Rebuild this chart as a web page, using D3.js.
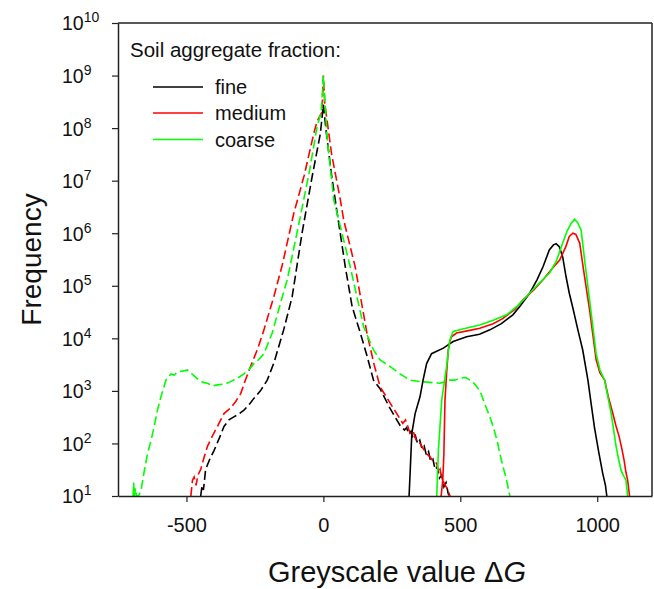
<!DOCTYPE html>
<html>
<head>
<meta charset="utf-8">
<script src="https://cdn.jsdelivr.net/npm/d3@7"></script>
<style>
  body { margin: 0; background: #fff; }
  svg { display: block; font-family: "Liberation Sans", Arial, sans-serif; }
</style>
</head>
<body>
<svg id="chart" width="654" height="589"></svg>
<script>
// greyscale value vs frequency
const xTicks = [-500, 0, 500, 1000];
const yExponents = [1, 2, 3, 4, 5, 6, 7, 8, 9, 10];
const seriesNames = ["fine", "medium", "coarse"];
const seriesColors = ["#000000", "#ff0000", "#00ff00"];

// dashed curves (peak around 0)
const fineDash = [[-448,1.0e1],[-443,1.6e1],[-438,1.3e1],[-430,3.2e1],[-415,5.0e1],[-399,7.4e1],[-380,1.26e2],[-363,2.1e2],[-345,2.8e2],[-327,3.2e2],[-310,3.6e2],[-290,4.3e2],[-270,5.6e2],[-254,7.2e2],[-230,1.0e3],[-205,1.6e3],[-180,3.5e3],[-160,7.9e3],[-145,1.45e4],[-114,6.2e4],[-78,1.0e6],[-41,1.2e7],[-11,7.9e7],[0,2.8e8],[11,8.0e7],[30,1.26e7],[50,2.5e6],[80,2.3e5],[105,4.0e4],[135,1.26e4],[160,4.5e3],[183,1.6e3],[207,1.1e3],[240,5.0e2],[280,2.2e2],[296,1.8e2],[304,2.0e2],[312,1.5e2],[320,1.7e2],[328,1.2e2],[336,1.4e2],[344,1.0e2],[352,1.15e2],[360,7.9e1],[368,8.9e1],[376,6.0e1],[384,7.0e1],[392,4.5e1],[400,5.0e1],[408,3.2e1],[416,3.6e1],[424,2.2e1],[432,2.5e1],[440,1.5e1],[448,1.8e1],[456,1.1e1],[462,1.0e1]];
const mediumDash = [[-484,1.0e1],[-478,2.0e1],[-472,2.3e1],[-465,1.6e1],[-458,2.5e1],[-448,3.2e1],[-435,5.6e1],[-423,8.9e1],[-405,1.4e2],[-387,2.1e2],[-363,3.7e2],[-339,4.7e2],[-320,6.3e2],[-302,8.9e2],[-285,1.6e3],[-266,2.9e3],[-240,6.3e3],[-217,1.45e4],[-181,6.2e4],[-150,2.5e5],[-108,2.4e6],[-70,1.26e7],[-35,7.9e7],[-23,1.35e8],[-5,2.0e8],[0,1.0e9],[5,3.0e8],[30,3.2e7],[62,4.3e6],[74,1.8e6],[116,2.3e5],[159,1.26e4],[185,3.2e3],[207,1.2e3],[240,6.3e2],[268,3.7e2],[290,2.4e2],[300,2.8e2],[317,1.55e2],[328,1.7e2],[340,1.1e2],[353,1.0e2],[365,7.9e1],[378,6.3e1],[390,5.5e1],[402,4.5e1],[414,4.2e1],[420,2.8e1],[426,3.2e1],[432,2.2e1],[445,1.6e1],[455,1.3e1],[462,1.0e1]];
const coarseDash = [[-695,1.0e1],[-693,1.8e1],[-690,1.0e1],[-686,1.4e1],[-682,1.0e1],[-675,1.0e1],[-666,1.26e1],[-655,2.8e1],[-642,6.5e1],[-630,1.1e2],[-618,2.1e2],[-605,4.5e2],[-593,7.8e2],[-575,1.6e3],[-557,2.1e3],[-545,2.0e3],[-533,2.3e3],[-510,2.4e3],[-497,2.5e3],[-480,2.1e3],[-460,1.7e3],[-440,1.45e3],[-424,1.4e3],[-405,1.25e3],[-387,1.3e3],[-360,1.35e3],[-339,1.5e3],[-310,1.8e3],[-290,2.1e3],[-270,2.6e3],[-254,3.3e3],[-235,4.0e3],[-217,5.1e3],[-187,1.26e4],[-150,6.2e4],[-132,1.3e5],[-84,2.1e6],[-50,1.6e7],[-23,1.07e8],[-8,2.0e8],[0,1.0e9],[8,2.0e8],[13,6.9e7],[38,4.3e6],[50,2.4e6],[98,2.3e5],[147,1.66e4],[183,6.0e3],[207,3.9e3],[244,2.9e3],[280,2.1e3],[317,1.6e3],[353,1.5e3],[390,1.45e3],[426,1.4e3],[460,1.6e3],[480,1.6e3],[499,1.75e3],[520,1.8e3],[535,1.6e3],[550,1.4e3],[572,1.0e3],[590,5.5e2],[608,3.2e2],[620,2.1e2],[635,1.1e2],[644,6.5e1],[660,3.0e1],[669,2.0e1],[681,1.0e1]];

// solid curves (second peak)
const fineSolid = [[313,1.0e1],[317,3.0e1],[323,1.55e2],[335,3.7e2],[353,7.8e2],[364,1.6e3],[377,3.3e3],[395,5.1e3],[438,6.5e3],[474,8.7e3],[523,1.07e4],[570,1.2e4],[608,1.45e4],[650,1.9e4],[692,2.8e4],[720,4.2e4],[753,7.2e4],[780,1.3e5],[802,2.3e5],[825,4.8e5],[840,6.0e5],[850,6.3e5],[862,5.5e5],[874,3.5e5],[886,1.5e5],[898,7.2e4],[910,4.0e4],[930,1.4e4],[947,6.0e3],[966,1.6e3],[978,5.6e2],[990,2.0e2],[1005,7.1e1],[1020,2.7e1],[1030,1.6e1],[1035,1.0e1]];
const mediumSolid = [[430,1.0e1],[436,2.0e1],[440,6.3e1],[444,6.6e2],[450,2.2e3],[456,6.0e3],[462,8.9e3],[468,1.07e4],[486,1.26e4],[530,1.4e4],[571,1.55e4],[620,1.9e4],[656,2.4e4],[700,3.6e4],[729,5.4e4],[770,8.5e4],[802,1.3e5],[835,2.1e5],[863,3.1e5],[885,5.5e5],[898,8.7e5],[911,1.0e6],[922,9.5e5],[936,6.5e5],[950,2.0e5],[972,3.5e4],[996,3.9e3],[1010,2.2e3],[1027,1.6e3],[1040,7.9e2],[1057,3.7e2],[1068,2.2e2],[1080,1.35e2],[1090,7.9e1],[1098,4.8e1],[1105,2.8e1],[1111,2.0e1],[1118,1.0e1]];
const coarseSolid = [[414,1.0e1],[420,7.4e1],[426,2.2e2],[432,6.6e2],[441,1.4e3],[450,2.9e3],[456,5.6e3],[462,9.3e3],[474,1.35e4],[520,1.55e4],[571,1.8e4],[620,2.2e4],[669,2.8e4],[710,4.2e4],[753,7.2e4],[790,1.15e5],[826,1.75e5],[850,2.9e5],[874,6.5e5],[890,1.1e6],[905,1.55e6],[917,1.85e6],[928,1.6e6],[941,1.15e6],[955,2.8e5],[972,5.4e4],[996,5.1e3],[1010,2.5e3],[1027,1.6e3],[1040,7.1e2],[1051,3.7e2],[1060,1.8e2],[1069,8.7e1],[1078,5.0e1],[1087,3.1e1],[1095,2.5e1],[1105,2.0e1],[1111,1.0e1]];

const dashSeries = [fineDash, mediumDash, coarseDash];
const solidSeries = [fineSolid, mediumSolid, coarseSolid];

const svg = d3.select("#chart");
const plotLeft = 118, plotRight = 652, plotTop = 23, plotBottom = 496;

const x = d3.scaleLinear().domain([-750, 1200]).range([plotLeft, plotRight]);
const y = d3.scaleLog().domain([1e1, 1e10]).range([plotBottom, plotTop]);

svg.append("defs").append("clipPath").attr("id", "plotclip")
    .append("rect").attr("x", plotLeft).attr("y", plotTop - 1)
    .attr("width", plotRight - plotLeft).attr("height", plotBottom - plotTop + 2);

const line = d3.line().x(d => x(d[0])).y(d => y(d[1]));

const plot = svg.append("g").attr("clip-path", "url(#plotclip)");

// dashed first, then solid
dashSeries.forEach((s, i) => {
    plot.append("path")
        .attr("d", line(s))
        .attr("fill", "none")
        .attr("stroke", seriesColors[i])
        .attr("stroke-width", 1.6)
        .attr("stroke-dasharray", "9,4");
});
solidSeries.forEach((s, i) => {
    plot.append("path")
        .attr("d", line(s))
        .attr("fill", "none")
        .attr("stroke", seriesColors[i])
        .attr("stroke-width", 1.6);
});

// frame: top and right borders
svg.append("line").attr("x1", plotLeft).attr("x2", plotRight).attr("y1", plotTop).attr("y2", plotTop)
    .attr("stroke", "#222").attr("stroke-width", 1.5);
svg.append("line").attr("x1", plotRight).attr("x2", plotRight).attr("y1", plotTop).attr("y2", plotBottom)
    .attr("stroke", "#222").attr("stroke-width", 1.5);

// x axis
const xAxis = svg.append("g")
    .attr("transform", `translate(0,${plotBottom})`)
    .call(d3.axisBottom(x).tickValues(xTicks).tickSize(6).tickPadding(16)
        .tickSizeOuter(0).tickFormat(d => String(d)));
xAxis.select(".domain").attr("stroke", "#222").attr("stroke-width", 1.5);
xAxis.selectAll(".tick line").attr("stroke", "#222").attr("stroke-width", 1.2);
xAxis.selectAll(".tick text")
    .attr("font-size", 20).attr("font-family", "Liberation Sans, Arial, sans-serif")
    .attr("fill", "#111");

// y axis with 10^n labels
const yAxis = svg.append("g")
    .attr("transform", `translate(${plotLeft},0)`)
    .call(d3.axisLeft(y).tickValues(yExponents.map(e => Math.pow(10, e)))
        .tickSize(6).tickSizeOuter(0).tickFormat(""));
yAxis.select(".domain").attr("stroke", "#222").attr("stroke-width", 1.5);
yAxis.selectAll(".tick line").attr("stroke", "#222").attr("stroke-width", 1.2);

yExponents.forEach(e => {
    const t = svg.append("text")
        .attr("x", 62).attr("y", y(Math.pow(10, e)) + 7.4)
        .attr("font-size", 19.5).attr("fill", "#111");
    t.append("tspan").text("10");
    t.append("tspan").attr("dy", -8).attr("font-size", 14).text(e);
});

// axis titles
svg.append("text")
    .attr("transform", `translate(41,${(plotTop + plotBottom) / 2}) rotate(-90)`)
    .attr("text-anchor", "middle")
    .attr("font-size", 28).attr("fill", "#111")
    .text("Frequency");

const xt = svg.append("text")
    .attr("x", 397).attr("y", 582)
    .attr("text-anchor", "middle")
    .attr("font-size", 29).attr("fill", "#111");
xt.append("tspan").text("Greyscale value \u0394");
xt.append("tspan").attr("font-style", "italic").text("G");

// legend
svg.append("text")
    .attr("x", 130).attr("y", 57)
    .attr("font-size", 20.5).attr("fill", "#111")
    .text("Soil aggregate fraction:");

const legendY = [87, 113, 139.5];
seriesNames.forEach((name, i) => {
    svg.append("line")
        .attr("x1", 153).attr("x2", 203)
        .attr("y1", legendY[i]).attr("y2", legendY[i])
        .attr("stroke", seriesColors[i]).attr("stroke-width", 1.6);
    svg.append("text")
        .attr("x", 215).attr("y", legendY[i] + 7)
        .attr("font-size", 20).attr("fill", "#111")
        .text(name);
});
</script>
</body>
</html>
